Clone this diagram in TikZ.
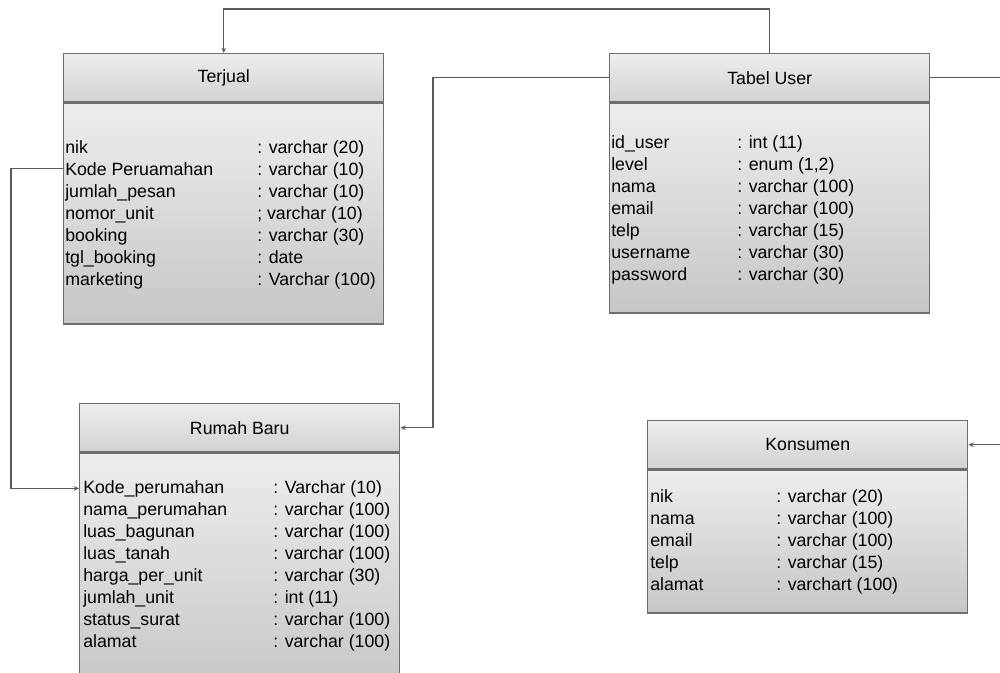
\documentclass[tikz,border=0pt]{standalone}
\usepackage{fontspec}
\setmainfont{Liberation Sans}
\usetikzlibrary{arrows.meta,positioning,calc}

\newlength\px \setlength\px{0.75pt}
\newcommand\tblfont{\fontsize{13.3}{15}\selectfont}
\definecolor{boxgray}{HTML}{6E6E6E}
\definecolor{linegray}{HTML}{5A5A5A}
\definecolor{headtop}{HTML}{EDEDED}
\definecolor{headbot}{HTML}{D2D2D2}
\definecolor{bodybot}{HTML}{C6C6C6}

\begin{document}
\begin{tikzpicture}[
            x=0.75pt, y=-0.75pt,
            % --- styles ---
            tblhead/.style={rectangle, draw=boxgray, line width=1.1pt, top color=headtop, bottom color=headbot,
                            anchor=north west, inner sep=0pt, minimum height=48\px, font=\tblfont},
            tblbody/.style={rectangle, draw=boxgray, line width=1.1pt, top color=headtop, bottom color=bodybot,
                            anchor=north west, inner sep=0pt},
            field/.style={anchor=base west, inner sep=0pt, font=\tblfont},
            line/.style={draw=linegray, line width=0.9pt, -{Stealth[length=4pt,width=3.5pt]}}
        ]
        \useasboundingbox (0,0) rectangle (1000,672);

        % --- Terjual ---
        \node[tblhead, minimum width=320\px] (terjualH) at (63,53) {Terjual};
        \node[tblbody, minimum width=320\px, minimum height=221\px] (terjual) at (terjualH.south west) {};
        \foreach \fname/\ftype [count=\i from 0] in {nik/{: varchar (20)}, Kode Peruamahan/{: varchar (10)},
            jumlah\_pesan/{: varchar (10)}, nomor\_unit/{; varchar (10)}, booking/{: varchar (30)},
            tgl\_booking/{: date}, marketing/{: Varchar (100)}}{
            \node[field] (tj-\i) at (65,153+22*\i) {\fname};
            \node[field] (tjt-\i) at (257,153+22*\i) {\ftype};
        }

        % --- Tabel User ---
        \node[tblhead, minimum width=320\px] (userH) at (609,53) {Tabel User};
        \node[tblbody, minimum width=320\px, minimum height=210\px] (user) at (userH.south west) {};
        \foreach \fname/\ftype [count=\i from 0] in {id\_user/{: int (11)}, level/{: enum (1,2)},
            nama/{: varchar (100)}, email/{: varchar (100)}, telp/{: varchar (15)},
            username/{: varchar (30)}, password/{: varchar (30)}}{
            \node[field] (us-\i) at (611,148+22*\i) {\fname};
            \node[field] (ust-\i) at (737,148+22*\i) {\ftype};
        }

        % --- Rumah Baru ---
        \node[tblhead, minimum width=320\px] (rumahH) at (79,403) {Rumah Baru};
        \node[tblbody, minimum width=320\px, minimum height=240\px] (rumah) at (rumahH.south west) {};
        \foreach \fname/\ftype [count=\i from 0] in {Kode\_perumahan/{: Varchar (10)}, nama\_perumahan/{: varchar (100)},
            luas\_bagunan/{: varchar (100)}, luas\_tanah/{: varchar (100)}, harga\_per\_unit/{: varchar (30)},
            jumlah\_unit/{: int (11)}, status\_surat/{: varchar (100)}, alamat/{: varchar (100)}}{
            \node[field] (rb-\i) at (83,493+22*\i) {\fname};
            \node[field] (rbt-\i) at (273,493+22*\i) {\ftype};
        }

        % --- Konsumen ---
        \node[tblhead, minimum width=320\px] (konsumenH) at (647,420) {Konsumen};
        \node[tblbody, minimum width=320\px, minimum height=143\px] (konsumen) at (konsumenH.south west) {};
        \foreach \fname/\ftype [count=\i from 0] in {nik/{: varchar (20)}, nama/{: varchar (100)},
            email/{: varchar (100)}, telp/{: varchar (15)}, alamat/{: varchart (100)}}{
            \node[field] (ks-\i) at (650,502+22*\i) {\fname};
            \node[field] (kst-\i) at (776,502+22*\i) {\ftype};
        }

        % --- connectors ---
        \path[line] (userH.north) -- ++(0,-44) -| (terjualH.north);
        \path[line] (userH.west) -- ++(-176,0) |- (rumahH.east);
        \path[line] (userH.east) -- ++(85,0) |- (konsumenH.east);
        \path[line] (tj-1.west -| terjual.west) -- ++(-52,0) |- (rb-0.west -| rumah.west);

        \end{tikzpicture}
\end{document}
